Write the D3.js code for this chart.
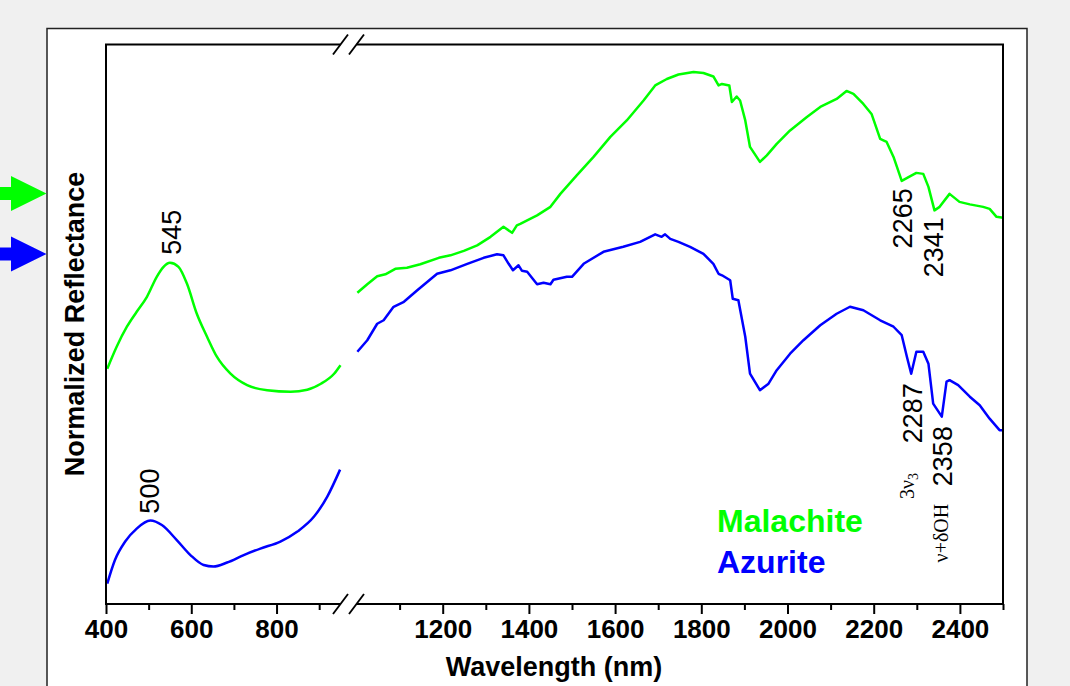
<!DOCTYPE html>
<html>
<head>
<meta charset="utf-8">
<script src="https://cdn.jsdelivr.net/npm/d3@7"></script>
<style>
  html, body { margin: 0; padding: 0; background: #f0f0f0; }
  svg { display: block; }
  text { font-family: "Liberation Sans", Arial, sans-serif; }
</style>
</head>
<body>
<div id="chart"></div>
<script>
// wavelength (nm) and normalized reflectance (arb. units)
const malachiteVisNm = [403, 425, 449, 472, 496, 519, 535, 550, 570, 590, 613, 637, 660, 692, 731, 778, 833, 872, 904, 935, 950];
const malachiteVis   = [0.471, 0.515, 0.555, 0.585, 0.615, 0.655, 0.675, 0.683, 0.675, 0.641, 0.581, 0.535, 0.495, 0.461, 0.438, 0.428, 0.425, 0.429, 0.441, 0.461, 0.478];

const azuriteVisNm = [403, 421, 445, 472, 504, 531, 566, 598, 629, 652, 684, 723, 762, 809, 849, 888, 919, 949];
const azuriteVis   = [0.041, 0.088, 0.125, 0.151, 0.167, 0.158, 0.128, 0.098, 0.078, 0.075, 0.083, 0.098, 0.111, 0.125, 0.145, 0.175, 0.215, 0.269];

const malachiteNirNm = [1002, 1025, 1048, 1067, 1090, 1117, 1148, 1191, 1218, 1249, 1280, 1311, 1341, 1361, 1372, 1380, 1396, 1419, 1450, 1473,
  1511, 1550, 1589, 1627, 1666, 1693, 1720, 1747, 1782, 1805, 1828, 1840, 1848, 1865, 1871, 1882, 1890, 1902, 1913, 1936,
  1952, 1975, 2006, 2045, 2076, 2114, 2137, 2153, 2176, 2195, 2215, 2230, 2246, 2265, 2284, 2299, 2315, 2327, 2341, 2353,
  2376, 2399, 2423, 2454, 2469, 2485, 2500];
const malachiteNir = [0.623, 0.640, 0.656, 0.660, 0.671, 0.673, 0.680, 0.693, 0.698, 0.707, 0.718, 0.735, 0.755, 0.743, 0.758, 0.761, 0.768, 0.778, 0.795, 0.821,
  0.858, 0.895, 0.935, 0.968, 1.008, 1.038, 1.051, 1.060, 1.065, 1.063, 1.056, 1.038, 1.041, 1.038, 1.005, 1.016, 1.008, 0.968, 0.915, 0.885,
  0.898, 0.921, 0.948, 0.975, 0.995, 1.011, 1.027, 1.021, 1.001, 0.981, 0.931, 0.925, 0.895, 0.847, 0.856, 0.863, 0.861, 0.835, 0.788, 0.795,
  0.821, 0.805, 0.800, 0.795, 0.791, 0.775, 0.773];

const azuriteNirNm = [1002, 1025, 1048, 1063, 1086, 1110, 1141, 1187, 1218, 1257, 1295, 1326, 1341, 1353, 1363, 1376, 1384, 1396, 1419, 1434,
  1450, 1457, 1488, 1500, 1527, 1573, 1619, 1658, 1693, 1708, 1716, 1728, 1747, 1774, 1805, 1828, 1840, 1848, 1867, 1873,
  1886, 1902, 1913, 1936, 1956, 1975, 2006, 2037, 2076, 2114, 2145, 2176, 2215, 2246, 2265, 2277, 2287, 2299, 2315, 2327,
  2338, 2358, 2369, 2376, 2396, 2423, 2446, 2469, 2492, 2500];
const azuriteNir = [0.505, 0.528, 0.561, 0.568, 0.595, 0.605, 0.628, 0.661, 0.668, 0.681, 0.693, 0.700, 0.698, 0.681, 0.668, 0.678, 0.667, 0.665, 0.640, 0.643,
  0.640, 0.649, 0.655, 0.655, 0.681, 0.705, 0.715, 0.725, 0.740, 0.735, 0.740, 0.731, 0.725, 0.715, 0.701, 0.681, 0.661, 0.658, 0.648, 0.611,
  0.608, 0.535, 0.461, 0.428, 0.441, 0.468, 0.501, 0.528, 0.558, 0.581, 0.595, 0.588, 0.568, 0.555, 0.538, 0.495, 0.461, 0.505, 0.505, 0.481,
  0.401, 0.375, 0.445, 0.448, 0.438, 0.415, 0.398, 0.371, 0.348, 0.348];

const seriesNames  = ["Malachite", "Azurite"];
const seriesColors = ["#00ff00", "#0000ff"];

const leftTicks  = [400, 500, 600, 700, 800, 900];
const rightTicks = [1100, 1200, 1300, 1400, 1500, 1600, 1700, 1800, 1900, 2000, 2100, 2200, 2300, 2400, 2500];

// band labels: text, wavelength and reflectance level of the label centre
const peakLabels = [
  { text: "545",  nm: 553,  at: 0.744 },
  { text: "500",  nm: 501,  at: 0.226 },
  { text: "2265", nm: 2266, at: 0.772 },
  { text: "2341", nm: 2338, at: 0.714 },
  { text: "2287", nm: 2289, at: 0.382 },
  { text: "2358", nm: 2359, at: 0.296 }
];

const W = 1070, H = 686;
const box = { left: 106, top: 44.5, right: 1003, bottom: 604 };
const breakL = 340.5, breakR = 356.5;

const svg = d3.select("#chart").append("svg")
  .attr("width", W).attr("height", H);

// outer frame
svg.append("rect")
  .attr("x", 47).attr("y", 28.5).attr("width", 980).attr("height", 700)
  .attr("fill", "#fff").attr("stroke", "#222").attr("stroke-width", 1.5);

const xL = d3.scaleLinear().domain([400, 950]).range([box.left, breakL]);
const xR = d3.scaleLinear().domain([1000, 2500]).range([breakR, box.right]);
const y  = d3.scaleLinear().domain([0, 1.12]).range([box.bottom, box.top]);

const xAny = nm => nm < 975 ? xL(nm) : xR(nm);

const smooth = d3.line().x(d => xL(d[0])).y(d => y(d[1])).curve(d3.curveMonotoneX);
const noisy  = d3.line().x(d => xR(d[0])).y(d => y(d[1]));

const curves = [
  { nm: malachiteVisNm, v: malachiteVis, c: 0, gen: smooth },
  { nm: azuriteVisNm,   v: azuriteVis,   c: 1, gen: smooth },
  { nm: malachiteNirNm, v: malachiteNir, c: 0, gen: noisy },
  { nm: azuriteNirNm,   v: azuriteNir,   c: 1, gen: noisy }
];

svg.append("g").selectAll("path")
  .data(curves)
  .enter().append("path")
    .attr("d", d => d.gen(d.nm.map((n, i) => [n, d.v[i]])))
    .attr("fill", "none")
    .attr("stroke", d => seriesColors[d.c])
    .attr("stroke-width", 2.5)
    .attr("stroke-linejoin", "round");

// axes
const isMajor = v => v % 200 === 0 && v !== 2500;
const fmt = v => isMajor(v) ? v : "";

function drawAxis(scale, ticks){
  const g = svg.append("g").attr("transform", `translate(0,${box.bottom})`);
  g.call(d3.axisBottom(scale).tickValues(ticks).tickFormat(fmt).tickSizeOuter(0));
  g.select(".domain").remove();
  g.selectAll(".tick line")
    .attr("stroke", "#000").attr("stroke-width", 2)
    .attr("y2", v => isMajor(v) ? 10 : 6);
  g.selectAll(".tick text")
    .attr("y", 14)
    .attr("dy", "0.75em")
    .style("font-family", "'Liberation Sans', Arial, sans-serif")
    .style("font-size", "26px")
    .style("font-weight", "bold")
    .attr("fill", "#000");
}
drawAxis(xL, leftTicks);
drawAxis(xR, rightTicks);

// plot frame with the axis break
const frame = svg.append("g").attr("stroke", "#000").attr("stroke-width", 2).attr("fill", "none");
frame.append("path").attr("d",
  `M${breakL},${box.top}H${box.left}V${box.bottom}H${breakL}` +
  `M${breakR},${box.bottom}H${box.right}V${box.top}H${breakR}`);
[box.top, box.bottom].forEach(yy => {
  [breakL, breakR].forEach(bx => {
    frame.append("line")
      .attr("x1", bx - 7.5).attr("y1", yy + 10)
      .attr("x2", bx + 7.5).attr("y2", yy - 10)
      .attr("stroke-width", 1.8);
  });
});

// axis titles
svg.append("text")
  .attr("x", 554).attr("y", 676)
  .attr("text-anchor", "middle")
  .style("font-size", "27px").style("font-weight", "bold")
  .text("Wavelength (nm)");

svg.append("text")
  .attr("transform", "translate(84,324) rotate(-90)")
  .attr("text-anchor", "middle")
  .style("font-size", "27px").style("font-weight", "bold")
  .text("Normalized Reflectance");

// band labels
svg.append("g").selectAll("text")
  .data(peakLabels)
  .enter().append("text")
    .attr("transform", d => `translate(${xAny(d.nm)},${y(d.at)}) rotate(-90)`)
    .attr("text-anchor", "middle")
    .attr("dy", "0.36em")
    .style("font-size", "27px")
    .text(d => d.text);

const serif = "'Liberation Serif', 'Times New Roman', serif";
const nu3 = svg.append("text")
  .attr("transform", `translate(${xR(2279)},${y(0.236)}) rotate(-90)`)
  .attr("text-anchor", "middle")
  .attr("dy", "0.3em")
  .style("font-family", serif).style("font-size", "20px");
nu3.append("tspan").text("3\u03bd");
nu3.append("tspan").attr("dy", "0.3em").style("font-size", "14px").text("3");

svg.append("text")
  .attr("transform", `translate(${xR(2356)},${y(0.142)}) rotate(-90)`)
  .attr("text-anchor", "middle")
  .attr("dy", "0.35em")
  .style("font-family", serif).style("font-size", "20px")
  .text("\u03bd+\u03b4OH");

// legend
svg.append("g").selectAll("text")
  .data(seriesNames)
  .enter().append("text")
    .attr("x", 717)
    .attr("y", (d, i) => 532 + i * 41)
    .attr("fill", (d, i) => seriesColors[i])
    .style("font-size", "32px").style("font-weight", "bold")
    .text(d => d);

// side arrows
const arrow = cy => `M0,${cy - 6.5}H11V${cy - 17.5}L46.5,${cy}L11,${cy + 17.5}V${cy + 6.5}H0Z`;
svg.append("g").selectAll("path")
  .data([193.5, 254])
  .enter().append("path")
    .attr("d", d => arrow(d))
    .attr("fill", (d, i) => seriesColors[i]);
</script>
</body>
</html>
